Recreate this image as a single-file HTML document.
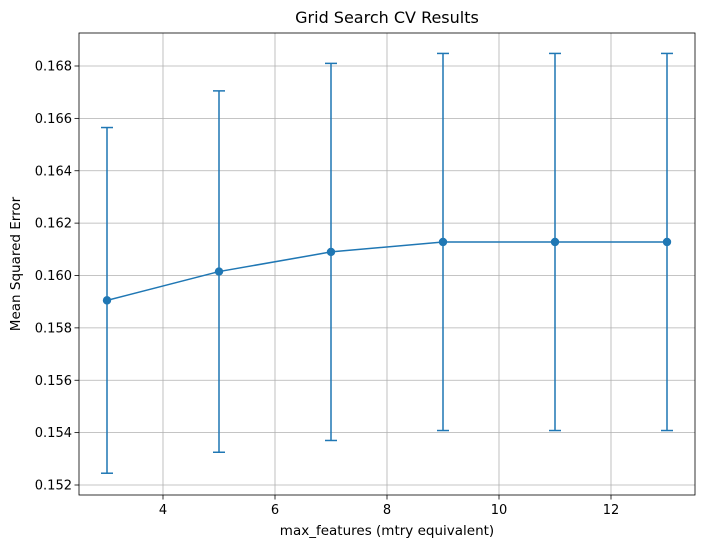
<!DOCTYPE html>
<html><head><meta charset="utf-8"><style>
body{margin:0;background:#fff;font-family:"Liberation Sans","DejaVu Sans",sans-serif;}
svg text{font-family:"DejaVu Sans","Liberation Sans",sans-serif;fill:#000;}
</style></head><body>
<svg id="chart" width="709" height="547" xmlns="http://www.w3.org/2000/svg">
<g id="grid"></g>
<g id="axes"></g>
<g id="series"></g>
<text x="387" y="23" text-anchor="middle" font-size="16">Grid Search CV Results</text>
<text x="387" y="535" text-anchor="middle" font-size="13.5">max_features (mtry equivalent)</text>
<text x="20" y="264" text-anchor="middle" font-size="13.5" transform="rotate(-90 20 264)">Mean Squared Error</text>
</svg>
<script>
const categories=[3,5,7,9,11,13];
const meanValues=[0.15905,0.16015,0.1609,0.16128,0.16128,0.16128];
const errValues=[0.0066,0.0069,0.0072,0.0072,0.0072,0.0072];
const xTicks=[4,6,8,10,12];
const yTicks=[0.152,0.154,0.156,0.158,0.160,0.162,0.164,0.166,0.168];
const L=79,R=695,T=33,B=495;
const xs=v=>107+(v-3)*56;
const ys=v=>485-(v-0.152)/0.002*52.375;
const NS="http://www.w3.org/2000/svg";
function mk(p,tag,a){const e=document.createElementNS(NS,tag);for(const k in a)e.setAttribute(k,a[k]);p.appendChild(e);return e;}
const g=document.getElementById('grid'),ax=document.getElementById('axes'),s=document.getElementById('series');
xTicks.forEach(t=>{const x=xs(t);
const l=mk(g,'line',{x1:x,x2:x,y1:T,y2:B,stroke:'#b0b0b0','stroke-width':0.8});

mk(ax,'line',{x1:x,x2:x,y1:B,y2:B+4.5,stroke:'#000','stroke-width':0.8});
const tx=mk(ax,'text',{x:x,y:B+19,'text-anchor':'middle','font-size':13});tx.textContent=t;
});
yTicks.forEach(t=>{const y=ys(t);
const l=mk(g,'line',{x1:L,x2:R,y1:y,y2:y,stroke:'#b0b0b0','stroke-width':0.8});

mk(ax,'line',{x1:L-4.5,x2:L,y1:y,y2:y,stroke:'#000','stroke-width':0.8});
const tx=mk(ax,'text',{x:L-7,y:y+4.5,'text-anchor':'end','font-size':13});tx.textContent=t.toFixed(3);
});
const fr=mk(ax,'rect',{x:L,y:T,width:R-L,height:B-T,fill:'none',stroke:'#000','stroke-width':0.8});

const c='#1f77b4';
categories.forEach((cx,i)=>{const x=xs(cx),y1=ys(meanValues[i]+errValues[i]),y2=ys(meanValues[i]-errValues[i]);
const eb=mk(s,'g',{});
mk(eb,'line',{x1:x,x2:x,y1:y1,y2:y2,stroke:c,'stroke-width':1.5});
mk(eb,'line',{x1:x-6,x2:x+6,y1:y1,y2:y1,stroke:c,'stroke-width':1.5});
mk(eb,'line',{x1:x-6,x2:x+6,y1:y2,y2:y2,stroke:c,'stroke-width':1.5});});
const ln=mk(s,'polyline',{points:categories.map((cx,i)=>xs(cx)+','+ys(meanValues[i])).join(' '),fill:'none',stroke:c,'stroke-width':1.5});

categories.forEach((cx,i)=>{const p=mk(s,'circle',{cx:xs(cx),cy:ys(meanValues[i]),r:4.2,fill:c});
});
</script>
</body></html>
